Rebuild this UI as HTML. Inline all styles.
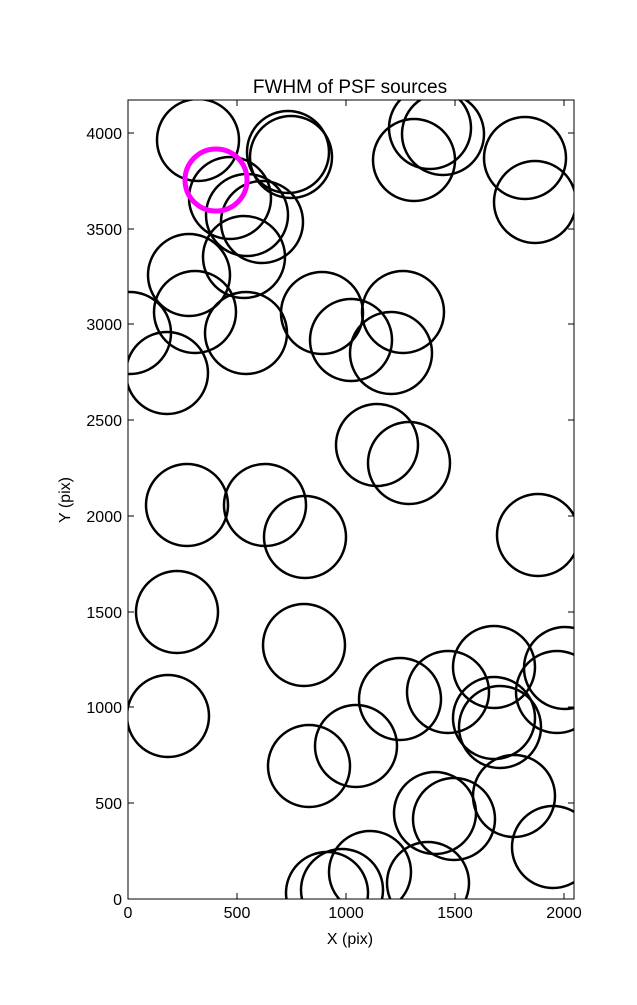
<!DOCTYPE html>
<html><head><style>body{margin:0;background:#fff}</style></head><body>
<svg width="637" height="1000" xmlns="http://www.w3.org/2000/svg" font-family="Liberation Sans, sans-serif">
<defs><clipPath id="c"><rect x="128" y="100" width="446" height="799"/></clipPath></defs>
<g clip-path="url(#c)" fill="none" stroke="#000" stroke-width="2.5">
<circle cx="198" cy="140" r="41"/><circle cx="288" cy="152" r="41"/><circle cx="291" cy="157" r="41"/>
<circle cx="430" cy="128" r="41"/><circle cx="443" cy="134" r="41"/><circle cx="414" cy="160" r="41"/>
<circle cx="525" cy="158" r="41"/><circle cx="535" cy="202" r="41"/>
<circle cx="230" cy="198" r="41"/><circle cx="247" cy="215" r="41"/><circle cx="262" cy="222" r="41"/>
<circle cx="244" cy="257" r="41"/><circle cx="189" cy="275" r="41"/><circle cx="195" cy="312" r="41"/>
<circle cx="130" cy="333" r="41"/><circle cx="167" cy="373" r="41"/><circle cx="246" cy="333" r="41"/>
<circle cx="322" cy="313" r="41"/><circle cx="351" cy="340" r="41"/><circle cx="403" cy="312" r="41"/>
<circle cx="391" cy="353" r="41"/><circle cx="377" cy="445" r="41"/><circle cx="409" cy="463" r="41"/>
<circle cx="187" cy="505" r="41"/><circle cx="265" cy="505" r="41"/><circle cx="305" cy="537" r="41"/>
<circle cx="538" cy="535" r="41"/><circle cx="177" cy="612" r="41"/><circle cx="304" cy="645" r="41"/>
<circle cx="168" cy="716" r="41"/><circle cx="565" cy="668" r="41"/><circle cx="557" cy="692" r="41"/>
<circle cx="494" cy="667" r="41"/><circle cx="448" cy="692" r="41"/><circle cx="400" cy="699" r="41"/>
<circle cx="494" cy="718" r="41"/><circle cx="500" cy="727" r="41"/><circle cx="514" cy="796" r="41"/>
<circle cx="356" cy="746" r="41"/><circle cx="309" cy="766" r="41"/><circle cx="435" cy="813" r="41"/>
<circle cx="454" cy="819" r="41"/><circle cx="553" cy="847" r="41"/><circle cx="370" cy="872" r="41"/>
<circle cx="342" cy="890" r="41"/><circle cx="327" cy="893" r="41"/><circle cx="428" cy="883" r="41"/>
<circle cx="216" cy="180" r="31" stroke="#f0f" stroke-width="5"/>
</g>
<rect x="128" y="100" width="446" height="799" fill="none" stroke="#000" stroke-width="1"/>
<g stroke="#000" stroke-width="1">
<line x1="237" y1="899" x2="237" y2="893"/><line x1="346" y1="899" x2="346" y2="893"/><line x1="455" y1="899" x2="455" y2="893"/><line x1="564" y1="899" x2="564" y2="893"/>
<line x1="237" y1="100" x2="237" y2="106"/><line x1="346" y1="100" x2="346" y2="106"/><line x1="455" y1="100" x2="455" y2="106"/><line x1="564" y1="100" x2="564" y2="106"/>
<line x1="128" y1="803" x2="134" y2="803"/><line x1="128" y1="707" x2="134" y2="707"/><line x1="128" y1="612" x2="134" y2="612"/><line x1="128" y1="516" x2="134" y2="516"/><line x1="128" y1="420" x2="134" y2="420"/><line x1="128" y1="324" x2="134" y2="324"/><line x1="128" y1="229" x2="134" y2="229"/><line x1="128" y1="133" x2="134" y2="133"/>
<line x1="574" y1="803" x2="568" y2="803"/><line x1="574" y1="707" x2="568" y2="707"/><line x1="574" y1="612" x2="568" y2="612"/><line x1="574" y1="516" x2="568" y2="516"/><line x1="574" y1="420" x2="568" y2="420"/><line x1="574" y1="324" x2="568" y2="324"/><line x1="574" y1="229" x2="568" y2="229"/><line x1="574" y1="133" x2="568" y2="133"/>
</g>
<g font-size="16" text-anchor="middle">
<text x="128" y="918">0</text><text x="237" y="918">500</text><text x="346" y="918">1000</text><text x="455" y="918">1500</text><text x="564" y="918">2000</text>
<text x="350" y="944">X (pix)</text>
<text x="350" y="93" font-size="19">FWHM of PSF sources</text>
</g>
<g font-size="16" text-anchor="end">
<text x="122" y="905">0</text><text x="122" y="809">500</text><text x="122" y="713">1000</text><text x="122" y="618">1500</text><text x="122" y="522">2000</text><text x="122" y="426">2500</text><text x="122" y="330">3000</text><text x="122" y="235">3500</text><text x="122" y="139">4000</text>
</g>
<text x="70" y="500" font-size="16" text-anchor="middle" transform="rotate(-90 70 500)">Y (pix)</text>
</svg>
</body></html>
